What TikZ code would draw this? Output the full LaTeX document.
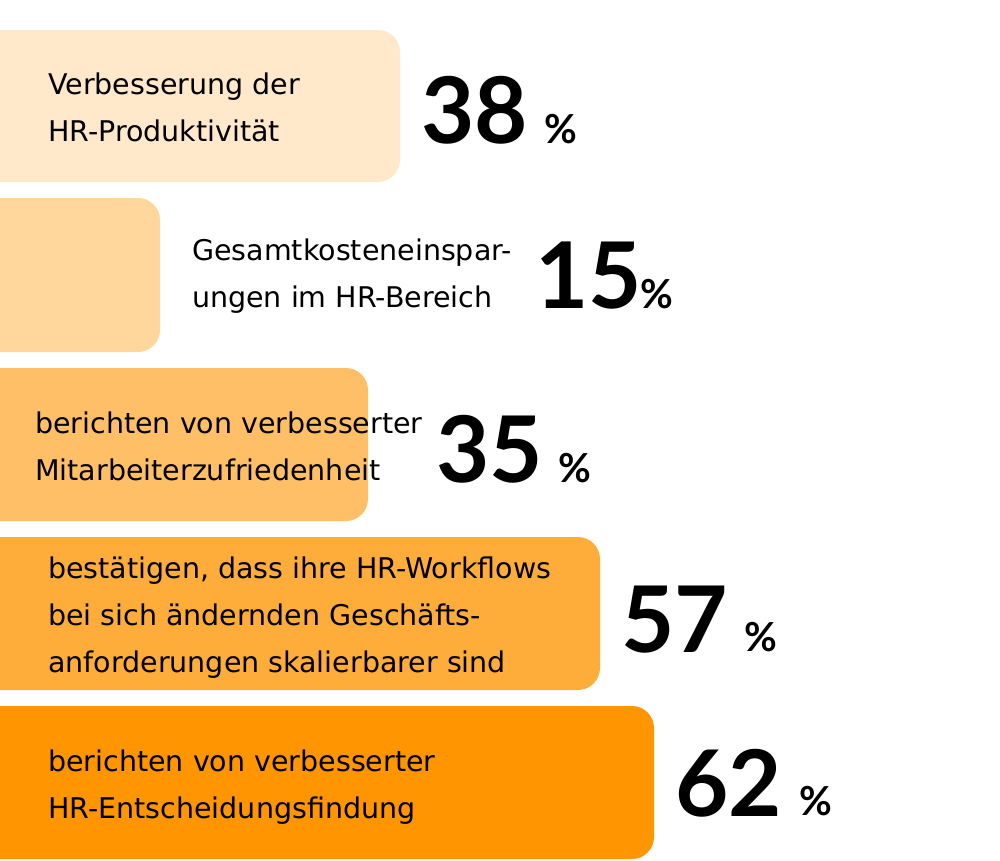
\documentclass[tikz,border=0pt]{standalone}
\usepackage{fontspec}
\setmainfont{Lato}
\newfontfamily\lblfont{DejaVu Sans}
\definecolor{cA}{HTML}{FFE9CA}
\definecolor{cB}{HTML}{FFD69B}
\definecolor{cC}{HTML}{FFBF66}
\definecolor{cD}{HTML}{FFAD3A}
\definecolor{cE}{HTML}{FF9500}
\begin{document}
\begin{tikzpicture}[x=1pt,y=-1pt,
  bar/.style={rounded corners=22pt},
  lbl/.style={anchor=base west,inner sep=0,font=\lblfont\fontsize{28.5}{47}\selectfont,align=left},
  big/.style={anchor=base west,inner sep=0,font=\fontsize{92}{92}\selectfont\bfseries},
  pct/.style={anchor=base west,inner sep=0,font=\fontsize{40}{40}\selectfont\bfseries}]
\useasboundingbox (0,0) rectangle (1000,860);
\fill[cA,bar] (-30,30) rectangle (400,182);
\fill[cB,bar] (-30,198) rectangle (160,352);
\fill[cC,bar] (-30,368) rectangle (368,521);
\fill[cD,bar] (-30,537) rectangle (600,690);
\fill[cE,bar] (-30,706) rectangle (654,859);
\node[lbl] (t1) at (48,141) {Verbesserung der\\HR-Produktivität};
\node[big] (n1) at (421,143) {38};
\node[pct] (p1) at (544,143) {\%};
\node[lbl] (t2) at (192,307) {Gesamtkosteneinspar-\\ungen im HR-Bereich};
\node[big] (n2) at (535,308) {15};
\node[pct] (p2) at (640,308) {\%};
\node[lbl] (t3) at (35,480) {berichten von verbesserter\\Mitarbeiterzufriedenheit};
\node[big] (n3) at (436,482) {35};
\node[pct] (p3) at (558,482) {\%};
\node[lbl] (t4) at (48,672) {bestätigen, dass ihre HR-Workflows\\bei sich ändernden Geschäfts-\\anforderungen skalierbarer sind};
\node[big] (n4) at (621,652) {57};
\node[pct] (p4) at (744,651) {\%};
\node[lbl] (t5) at (48,818) {berichten von verbesserter\\HR-Entscheidungsfindung};
\node[big] (n5) at (675,816) {62};
\node[pct] (p5) at (799,815) {\%};
\end{tikzpicture}
\end{document}
